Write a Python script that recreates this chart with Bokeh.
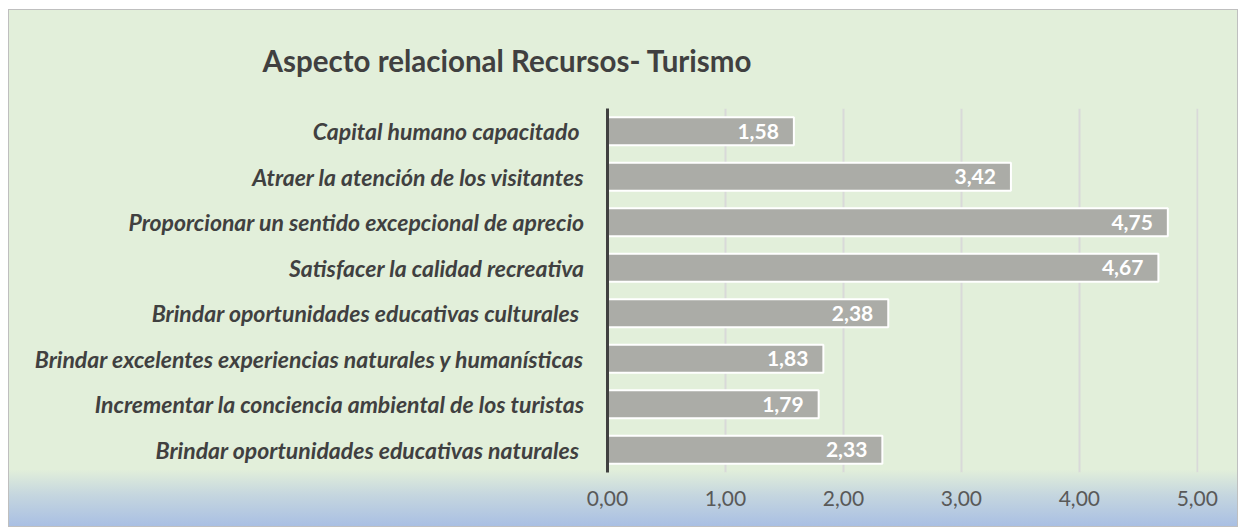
from bokeh.plotting import figure
from bokeh.models import ColumnDataSource, FactorRange, Range1d, FixedTicker, CustomJSTickFormatter, LabelSet
from bokeh.core.properties import value
from bokeh.embed import file_html
from bokeh.resources import INLINE

title = "Aspecto relacional Recursos- Turismo"
categories = [
    "Capital humano capacitado ",
    "Atraer la atención de los visitantes",
    "Proporcionar un sentido excepcional de aprecio",
    "Satisfacer la calidad recreativa",
    "Brindar oportunidades educativas culturales ",
    "Brindar excelentes experiencias naturales y humanísticas",
    "Incrementar la conciencia ambiental de los turistas",
    "Brindar oportunidades educativas naturales ",
]
values = [1.58, 3.42, 4.75, 4.67, 2.38, 1.83, 1.79, 2.33]
x_ticks = [0, 1, 2, 3, 4, 5]

labels = [f"{v:.2f}".replace(".", ",") for v in values]
src = ColumnDataSource(dict(cat=categories, val=values, lab=labels))

W, H = 1230, 518
FONT = "Lato"
p = figure(width=W, height=H, output_backend="svg", toolbar_location=None,
           title=title,
           y_range=FactorRange(*reversed(categories)), x_range=Range1d(0, 5.01),
           min_border_left=598, min_border_right=41, min_border_top=96, min_border_bottom=56)
p.styles = {"background": "linear-gradient(to bottom, #E2EFDA 0%, #E2EFDA 89%, #C5D6DF 94%, #A9BFE3 100%)",
            "border": "1px solid #BFBFBF", "box-sizing": "border-box",
            "margin": "9px 0px 0px 8px"}
p.background_fill_color = None
p.border_fill_color = None
p.outline_line_color = None

p.title.text_font = FONT
p.title.text_font_size = "29.5px"
p.title.text_font_style = "bold"
p.title.text_color = "#404040"
p.title.align = "left"
p.title.offset = -345
p.title.standoff = 61

p.hbar(y="cat", right="val", left=0, height=0.61, source=src,
       fill_color="#ABACA7", line_color="white", line_width=2)

p.add_layout(LabelSet(x="val", y="cat", text="lab", source=src, x_offset=-15,
                      text_align="right", text_baseline="middle", text_color="white",
                      text_font=value(FONT), text_font_size="21px", text_font_style="bold"))

p.xaxis.ticker = FixedTicker(ticks=x_ticks)
p.xaxis.formatter = CustomJSTickFormatter(code="return tick.toFixed(2).replace('.', ',');")
p.xaxis.axis_line_color = None
p.xaxis.major_tick_line_color = None
p.xaxis.minor_tick_line_color = None
p.xaxis.major_label_text_font = FONT
p.xaxis.major_label_text_font_size = "21px"
p.xaxis.major_label_text_color = "#595959"
p.xaxis.major_label_standoff = 12

p.yaxis.axis_line_color = "#404040"
p.yaxis.axis_line_width = 3
p.yaxis.major_tick_line_color = None
p.yaxis.minor_tick_line_color = None
p.yaxis.major_label_text_font = FONT
p.yaxis.major_label_text_font_size = "23px"
p.yaxis.major_label_text_font_style = "bold italic"
p.yaxis.major_label_text_color = "#404040"
p.yaxis.major_label_standoff = 17

p.xgrid.grid_line_color = "#D9D9D9"
p.xgrid.grid_line_width = 2
p.ygrid.grid_line_color = None

open("out.html", "w").write(file_html(p, INLINE))
